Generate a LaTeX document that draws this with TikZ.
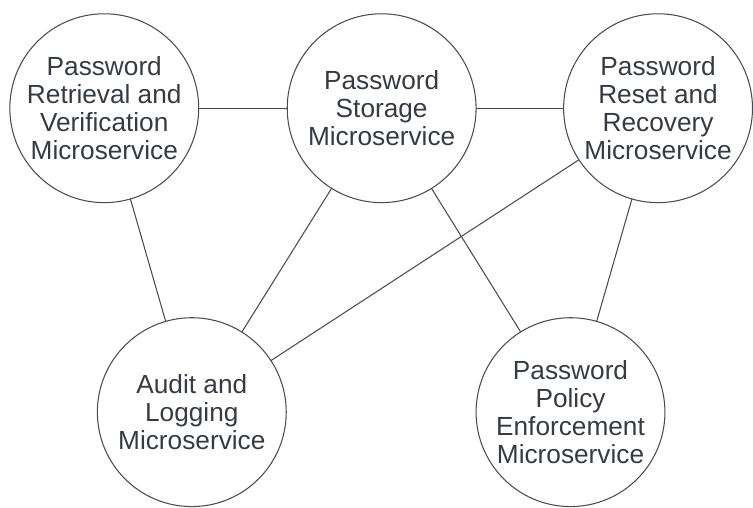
\documentclass[tikz,border=0pt]{standalone}
\usepackage{fontspec}
\setmainfont{Liberation Sans}
\usepackage{xcolor}
\usepackage{tikz}
\usetikzlibrary{positioning}

\definecolor{svcline}{HTML}{454C54}
\definecolor{svctext}{HTML}{353B43}

\begin{document}
\begin{tikzpicture}[every node/.style={font=\fontsize{20}{21.2}\selectfont}]
  % Styles
  \tikzstyle{service}=[circle, draw=svcline, line width=0.8pt, text=svctext, minimum size=144pt, inner sep=0pt, outer sep=0pt, align=center]
  \tikzstyle{link}=[draw=svcline, line width=0.8pt]

  % Top row
  \node[service] (retrieval) {Password\\Retrieval and\\Verification\\Microservice};
  \node[service, right=67.5pt of retrieval] (storage) {Password\\Storage\\Microservice};
  \node[service, right=66.75pt of storage] (reset) {Password\\Reset and\\Recovery\\Microservice};

  % Bottom row
  \node[service, below=87.75pt of retrieval, xshift=66.75pt] (audit) {Audit and\\Logging\\Microservice};
  \node[service, below=87.75pt of storage, xshift=144pt] (policy) {Password\\Policy\\Enforcement\\Microservice};

  % Frame
  \useasboundingbox (retrieval.center) ++(-79.5pt,82.5pt) rectangle ++(564.75pt,-381.75pt);

  % Connections
  \draw[link] (retrieval) -- (storage);
  \draw[link] (storage) -- (reset);
  \draw[link] (retrieval) -- (audit);
  \draw[link] (storage) -- (audit);
  \draw[link] (storage) -- (policy);
  \draw[link] (reset) -- (audit);
  \draw[link] (reset) -- (policy);
\end{tikzpicture}
\end{document}
